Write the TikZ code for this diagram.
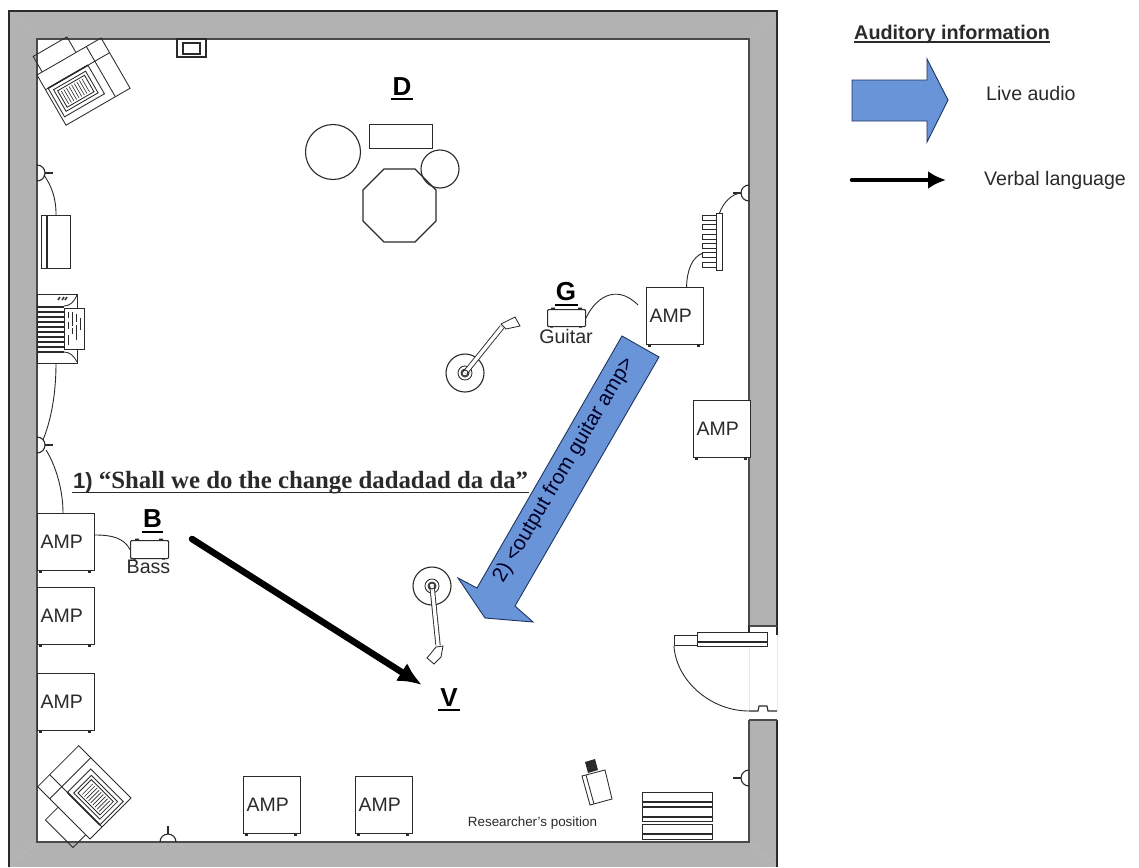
\documentclass[tikz,border=0pt]{standalone}
\usepackage{fontspec}
\setmainfont{Liberation Sans}
\newfontfamily\tmsfont{Liberation Serif}
\usetikzlibrary{arrows.meta}
\definecolor{wallgrey}{HTML}{B2B2B2}
\definecolor{ink}{HTML}{2A2A2A}
\definecolor{bluearrow}{HTML}{6A94D8}
\definecolor{blueedge}{HTML}{1E3560}
\newcommand{\fsz}[1]{\fontsize{#1}{#1}\selectfont}
\tikzset{
  line/.style={draw=ink,line width=1.1pt},
  thin line/.style={draw=ink,line width=0.85pt},
  cable/.style={draw=ink,line width=0.9pt},
  wallline/.style={draw=ink!85,line width=1.3pt},
  ampbox/.style={draw=ink,line width=1.1pt,fill=white,anchor=north west,minimum width=57pt,minimum height=57pt,inner xsep=3pt,inner ysep=0pt,text width=51pt,align=left,font=\fsz{19.5},text=ink},
  tag/.style={font=\bfseries\fsz{26},text=black,inner sep=0pt},
  lbl/.style={font=\fsz{19.6},text=ink,inner sep=0pt},
  box/.style={draw=ink,line width=1.1pt,anchor=north west,inner sep=0pt},
  bigarrow/.style={fill=bluearrow,draw=blueedge,line width=0.9pt,line join=miter},
  talk/.style={draw=black,line cap=round,-{Latex[length=24pt,width=21pt]}},
}
\newcommand{\ampunit}[3]{%
  \node[ampbox] (#1) at (#2,#3) {\raisebox{1.5pt}{AMP}};
  \fill[ink] (#2+2,#3+57) rectangle ++(3,3);
  \fill[ink] (#2+51,#3+57) rectangle ++(3,3);
}
\newcommand{\outlet}[4]{% name, x, y, rotation: semicircle on a wall
  \coordinate (#1) at (#2,#3);
  \begin{scope}[shift={(#2,#3)},rotate=#4]
    \draw[wallline,line width=1.4pt] (0,-16) -- (0,16);
    \draw[line] (0,-8) arc[start angle=90,end angle=-90,radius=8pt];
    \draw[line] (8,0) -- (16,0);
  \end{scope}
}
\newcommand{\sofa}[3]{%
  \begin{scope}[shift={(#1,#2)},rotate=#3]
    \draw[thin line] (0,0) rectangle (74,58);
    \draw[thin line] (6,0) -- (6,-18) -- (45,-18) -- (45,0);
    \draw[thin line] (0,17) -- (74,17);
    \draw[thin line] (57,0) -- (57,58);
    \draw[thin line] (3,17) rectangle (49,50);
    \draw[draw=ink,line width=1.5pt] (3,17) -- (49,17);
    \draw[thin line] (7,21) rectangle (44,46);
    \draw[thin line] (10,24) rectangle (41,43);
    \foreach \u in {13,16,...,39}{\draw[draw=ink,line width=0.6pt] (\u,26) -- (\u,41);}
  \end{scope}
}
\newcommand{\micstand}[3]{%
  \draw[line] (#2,#3) circle[radius=19pt];
  \draw[thin line] (#2,#3) circle[radius=7pt];
  \draw[thin line] (#2,#3) circle[radius=4pt];
}
\begin{document}
\begin{tikzpicture}[x=1pt,y=-1pt]
\useasboundingbox (0,0) rectangle (1139,867);
\fill[white] (0,0) rectangle (1139,867);
% walls
\fill[wallgrey] (9,11) rectangle (777,867);
\draw[wallgrey!88!white,line width=0.6pt] (9,11) -- (37,39) (777,11) -- (749,39) (9,867) -- (37,842) (777,867) -- (749,842);
\fill[white] (37,39) rectangle (749,842);
\fill[white] (749,626) rectangle (778,720);
\draw[ink,line width=1.1pt] (9,867) -- (9,11) -- (777,11) -- (777,626);
\draw[ink,line width=1.1pt] (777,720) -- (777,867);
\draw[wallline] (749,626) -- (749,39) -- (37,39) -- (37,842) -- (749,842) -- (749,720);
\draw[gray!18,line width=0.5pt] (749,635) -- (749,711) (777,635) -- (777,711);
% top wall box
\draw[line] (177,39) rectangle (206,57);
\draw[line] (183,43) rectangle (200,54);
% sofas
\sofa{37}{75}{30}
\sofa{90}{839}{135}
% outlets
\outlet{outA}{37}{173}{0}
\outlet{outB}{37}{445}{0}
\outlet{outC}{749}{193}{180}
\outlet{outD}{749}{778}{180}
\outlet{outE}{168}{842}{90}
% small cabinet
\node[box,minimum width=29pt,minimum height=53pt] (cab) at (41,215) {};
\draw[line] (47,215) -- (47,268);
\draw[cable] (outA) ++(7,2) .. controls (52,187) and (56,198) .. (cab.north);
% keyboard
\node[box,fill=white,minimum width=40pt,minimum height=69pt] (keys) at (37,294) {};
\foreach \y in {307,312,...,352}{\draw[line] (37,\y) -- (64,\y);}
\draw[thin line] (77,295) .. controls (74,302) and (70,306) .. (64,306);
\draw[thin line] (64,352) .. controls (70,352) and (74,356) .. (77,362);
\draw[ink,line width=1.4pt] (58,300) -- (60,297) (62,300) -- (64,297) (65,300) -- (67,297);
\node[box,fill=white,minimum width=20pt,minimum height=41pt] (sheet) at (64,308) {};
\foreach \x/\a/\b in {68/312/318,68/322/329,68/335/345,72/312/326,72/328/334,76/314/322,76/325/340,80/318/330}{\draw[ink,line width=0.8pt] (\x,\a) -- (\x,\b);}
\coordinate (keysout) at (56,363);
\draw[cable] (keysout) .. controls (56,395) and (51,420) .. ([xshift=6pt,yshift=5pt]outB);
% amps
\ampunit{ampBass}{37}{513}
\ampunit{ampL2}{37}{587}
\ampunit{ampL3}{37}{673}
\ampunit{ampB1}{243}{776}
\ampunit{ampB2}{355}{776}
\ampunit{ampG}{646}{287}
\ampunit{ampR}{693}{400}
\coordinate (bassTop) at (63,513);
\draw[cable] ([xshift=9pt,yshift=-5pt]outB) .. controls (56,466) and (63,490) .. (bassTop);
% bass
\node[box,rounded corners=1pt,minimum width=38pt,minimum height=18pt] (bassbox) at (130,540) {};
\fill[ink] (133,558) rectangle ++(3,1.5) (162,558) rectangle ++(3,1.5) (135,538.6) rectangle ++(4,1.4) (159,538.6) rectangle ++(4,1.4);
\draw[cable] (ampBass.east |- 0,535) .. controls (112,535) and (124,538) .. (bassbox.west);
\node[tag,anchor=base] (tagB) at (152.5,527) {B};
\draw[black,line width=1.1pt] (142,532) -- (163,532);
\node[lbl,anchor=base] (lblBass) at (148.5,573) {Bass};
% guitar
\node[box,rounded corners=1pt,minimum width=38pt,minimum height=17pt] (gbox) at (547,309) {};
\fill[ink] (550,326) rectangle ++(3,1.5) (579,326) rectangle ++(3,1.5) (551,307.6) rectangle ++(4,1.4) (578,307.6) rectangle ++(4,1.4);
\node[tag,anchor=base] (tagG) at (566,300) {G};
\draw[black,line width=1.1pt] (555,305) -- (578,305);
\node[lbl,anchor=base] (lblGuitar) at (566,343) {Guitar};
\coordinate (gend) at (638,305);
\draw[cable] (gbox.east) .. controls (594,300) and (615,282) .. (gend);
% pedal rack
\foreach \y in {215,224.5,234,243,252.5,262}{\draw[thin line] (702,\y) rectangle (716,\y+5);}
\node[box,minimum width=6pt,minimum height=57pt] (rack) at (716,213) {};
\draw[cable] (ampG.north |- 0,287) ++(11.5,0) .. controls (687,270) and (692,257) .. (703,253);
\draw[cable] (rack.north) .. controls (723,203) and (732,193) .. ([xshift=-7pt]outC);
% drums
\node[tag,anchor=base] (tagD) at (402,95) {D};
\draw[black,line width=1.1pt] (391,99) -- (413,99);
\node[box,minimum width=63pt,minimum height=24pt] (drumrect) at (369,124) {};
\node[draw=ink,line width=1.1pt,circle,minimum size=55pt,inner sep=0pt] (drumA) at (333,152) {};
\draw[line] (384,169) -- (415,169) -- (436,190) -- (436,221) -- (415,242) -- (384,242) -- (363,221) -- (363,190) -- cycle;
\node[draw=ink,line width=1.1pt,circle,minimum size=38pt,inner sep=0pt] (drumB) at (440,169) {};
% mic stands
\micstand{m1}{465}{373}
\draw[draw=ink,line width=0.9pt,double=white,double distance=3.4pt] (465,373) -- (502,327);
\draw[thin line,fill=white] (501,324) -- (515,317) -- (520,326) -- (506,329) -- cycle;
\draw[thin line] (465,373) circle[radius=3pt];
\micstand{m2}{432}{586}
\draw[draw=ink,line width=0.9pt,double=white,double distance=3.4pt] (432,586) -- (438,645);
\draw[thin line,fill=white] (436,647) -- (443,646) -- (441,657) -- (434,664) -- (427,658) -- cycle;
\draw[thin line] (432,586) circle[radius=3pt];
% speech
\node[font=\fsz{22},text=ink,inner sep=0pt,anchor=base west] (speech) at (73,488) {\bfseries 1) \tmsfont\fsz{24.8}“Shall we do the change dadadad da da”};
\draw[ink,line width=1pt] (72,492) -- (529,492);
% blue arrow
\draw[bigarrow] (622,336) -- (659,357) -- (515,606) -- (533,622) -- (485,618) -- (458,578) -- (477,588) -- cycle;
\node[font=\fsz{20.8},text=black!85!blue,inner sep=0pt,rotate=59.5] (output) at (564,470) {2) <output from guitar amp>};
% black arrow
\coordinate (talkstart) at (192,539);
\node[tag,anchor=base] (tagV) at (449,706) {V};
\draw[black,line width=1.1pt] (438,710) -- (460,710);
\coordinate (talkend) at (422,685);
\draw[talk,line width=6.5pt] (talkstart) -- (talkend);
% door
\draw[line,fill=white] (749,635) -- (749,626) -- (777,626) -- (777,635);
\draw[wallline] (749,626) -- (777,626);
\node[box,fill=white,minimum width=23pt,minimum height=10pt] (doorstop) at (674,635) {};
\node[box,fill=white,line width=1.2pt,minimum width=70pt,minimum height=14pt] (doorbar) at (697,632) {};
\draw[line] (697,642) -- (767,642);
\coordinate (doorend) at (749,711);
\draw[cable] (doorstop.south west) .. controls (676,680) and (710,711) .. (doorend);
\fill[white] (749,711) rectangle (777,720);
\draw[line] (749,711) -- (758,711) -- (759,706) -- (767,706) -- (768,711) -- (777,711);
\draw[wallline] (749,720) -- (777,720);
% shelves
\node[box,minimum width=70pt,minimum height=29pt] (shelfA) at (642,792) {};
\draw[line] (642,802) -- (712,802) (642,807) -- (712,807) (642,817) -- (712,817);
\node[box,minimum width=70pt,minimum height=15pt] (shelfB) at (642,824) {};
\draw[line] (642,834) -- (712,834);
% camera
\draw[thin line,fill=white] (582,776) -- (605,770) -- (612,799) -- (590,805) -- cycle;
\draw[thin line] (586,775) -- (594,804);
\fill[ink] (585,762) -- (595,759) -- (598,770) -- (588,773) -- cycle;
\node[font=\fsz{13.4},text=ink,inner sep=0pt] (researcher) at (532.5,823) {Researcher's position};
% legend
\node[font=\bfseries\fsz{19.8},text=ink,inner sep=0pt,anchor=base west] (legendhead) at (854,39.5) {Auditory information};
\draw[ink,line width=1.1pt] (854,42) -- (1050,42);
\draw[bigarrow] (852,80) -- (927,80) -- (927,59) -- (948,100) -- (927,142) -- (927,121) -- (852,121) -- cycle;
\node[lbl,anchor=base west] (liveaudio) at (986,100) {Live audio};
\coordinate (legstart) at (852,180);
\coordinate (legend) at (946,180);
\draw[draw=black,line width=4.5pt,line cap=round,-{Latex[length=18pt,width=18pt]}] (legstart) -- (legend);
\node[lbl,anchor=base west] (verbal) at (984,185) {Verbal language};
\end{tikzpicture}
\end{document}
